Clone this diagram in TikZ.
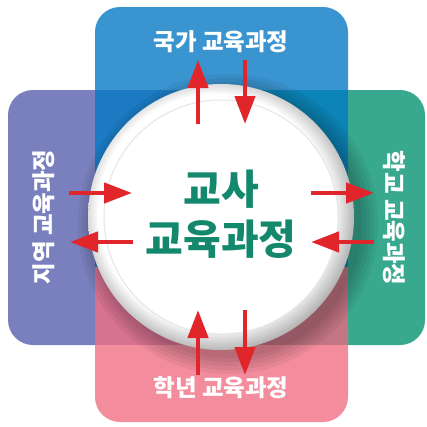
\documentclass[tikz,border=0pt]{standalone}
\usepackage{fontspec}
\newfontfamily\kr{Noto Sans CJK KR}
\usepackage{tikz}
\usetikzlibrary{arrows.meta, positioning}
\definecolor{NationBlue}{HTML}{3A94D0}
\definecolor{RegionPurple}{HTML}{7A80BD}
\definecolor{SchoolTeal}{HTML}{38A88F}
\definecolor{GradePink}{HTML}{F38D9E}
\definecolor{BluePurple}{HTML}{1B7AC1}
\definecolor{BlueTeal}{HTML}{0C84B7}
\definecolor{PinkPurple}{HTML}{D87292}
\definecolor{PinkTeal}{HTML}{C27583}
\definecolor{ArrRed}{HTML}{E0262B}
\definecolor{CoreGreen}{HTML}{14886C}
\pgfdeclareradialshading{ringshade}{\pgfpoint{-2bp}{2bp}}{color(0bp)=(white); color(22bp)=(white); color(29bp)=(black!50); color(50bp)=(black!50)}

\begin{document}
\begin{tikzpicture}[x=1pt, y=-1pt,
  panel/.style={rounded corners=25pt},
  lbl/.style={text=white, inner sep=0pt, font=\kr\bfseries\fontsize{23.5}{28}\selectfont},
  arr/.style={draw=ArrRed, line width=4.5pt, -{Triangle[length=28pt, width=20pt]}}
]
\useasboundingbox (0,0) rectangle (427,426);

% four panels
\fill[RegionPurple, panel] (8,90) rectangle (200,345);
\fill[SchoolTeal, panel] (240,90) rectangle (425,345);
\fill[NationBlue, panel] (95,7) rectangle (348,200);
\fill[GradePink, panel] (95,300) rectangle (348,422);
\fill[BluePurple] (95,90) rectangle (221,267);
\fill[BlueTeal] (221,90) rectangle (348,267);
\fill[PinkPurple] (95,267) rectangle (221,345);
\fill[PinkTeal] (221,267) rectangle (348,345);

% circle with shadow
\foreach \r in {150,146,...,134}
  \fill[black, opacity=.05] (228,224) circle (\r pt);
\node[circle, minimum size=266pt, inner sep=0pt, shading=ringshade] (ring) at (221,217) {};
\node[circle, minimum size=234pt, inner sep=0pt, fill=white, draw=black!10, line width=1pt] (core) at (221,217) {};
\node[text=CoreGreen, align=center, font=\kr\bfseries\fontsize{41}{50}\selectfont] (teacher) at (221,214) {교사\\교육과정};

% labels
\node[lbl] (national) at (221,42) {국가 교육과정};
\node[lbl] (grade) at (221,388) {학년 교육과정};
\node[lbl, rotate=90] (region) at (44,217) {지역 교육과정};
\node[lbl, rotate=-90] (school) at (394,218) {학교 교육과정};

% arrow ends
\coordinate (n1) at (198,124); \coordinate (n2) at (198,60);
\coordinate (n3) at (245,60);  \coordinate (n4) at (245,124);
\coordinate (g1) at (198,375); \coordinate (g2) at (198,310);
\coordinate (g3) at (245,310); \coordinate (g4) at (245,375);
\coordinate (r1) at (69,193);  \coordinate (r2) at (132,193);
\coordinate (r3) at (133,242); \coordinate (r4) at (70,242);
\coordinate (s1) at (311,193); \coordinate (s2) at (374,193);
\coordinate (s3) at (374,242); \coordinate (s4) at (311,242);

\draw[arr] (n1) -- (n2);
\draw[arr] (n3) -- (n4);
\draw[arr] (g1) -- (g2);
\draw[arr] (g3) -- (g4);
\draw[arr] (r1) -- (r2);
\draw[arr] (r3) -- (r4);
\draw[arr] (s1) -- (s2);
\draw[arr] (s3) -- (s4);
\end{tikzpicture}
\end{document}
